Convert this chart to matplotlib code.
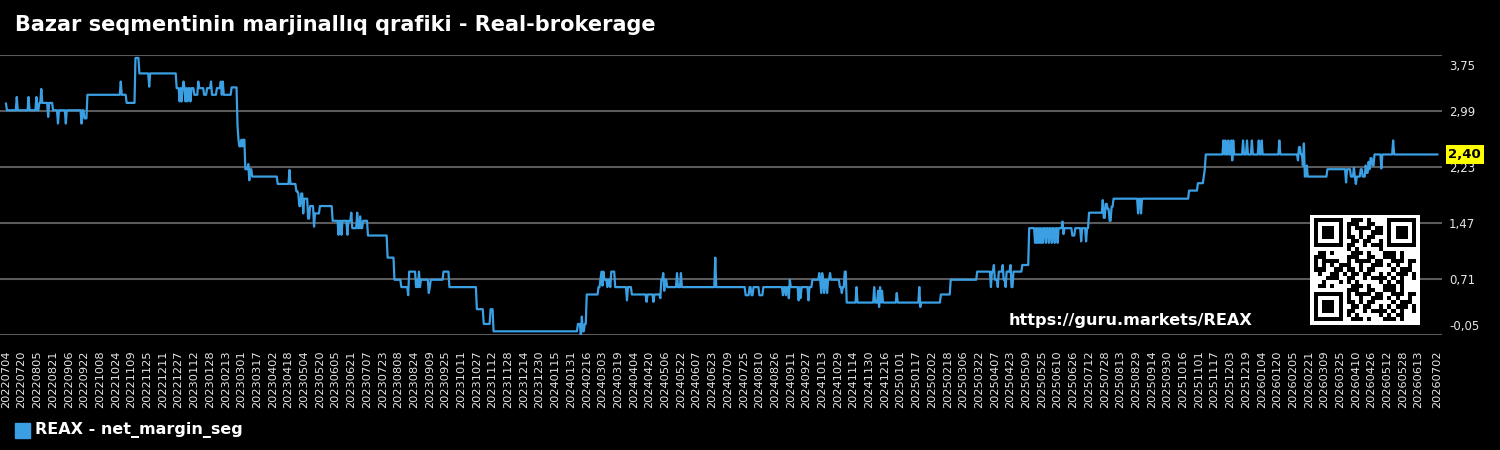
import numpy as np
import pandas as pd
import matplotlib
matplotlib.use("Agg")
import matplotlib.pyplot as plt
from matplotlib.patches import Rectangle
from matplotlib.transforms import ScaledTranslation

title = "Bazar seqmentinin marjinallıq qrafiki - Real-brokerage"
series_name = "REAX - net_margin_seg"
site = "https://guru.markets/REAX"

y_ticks = [-0.05, 0.71, 1.47, 2.23, 2.99, 3.75]

# change points (date, value), grouped by year
pts_2022 = [
    ("2022-07-04", 3.09), ("2022-07-05", 3.00),
    ("2022-07-15", 3.18), ("2022-07-16", 3.00),
    ("2022-07-27", 3.18), ("2022-07-28", 3.00),
    ("2022-08-04", 3.18), ("2022-08-05", 3.00),
    ("2022-08-07", 3.10),
    ("2022-08-09", 3.29), ("2022-08-10", 3.10),
    ("2022-08-16", 2.91), ("2022-08-17", 3.10),
    ("2022-08-21", 3.00),
    ("2022-08-26", 2.82), ("2022-08-27", 3.00),
    ("2022-09-03", 2.82), ("2022-09-04", 3.00),
    ("2022-09-19", 2.82), ("2022-09-20", 3.00),
    ("2022-09-22", 2.89),
    ("2022-09-25", 3.21),
    ("2022-10-29", 3.39), ("2022-10-30", 3.21),
    ("2022-11-04", 3.10),
    ("2022-11-13", 3.71),
    ("2022-11-17", 3.50),
    ("2022-11-27", 3.32), ("2022-11-28", 3.50),
    ("2022-12-25", 3.30),
    ("2022-12-28", 3.12), ("2022-12-29", 3.30),
    ("2022-12-30", 3.12), ("2022-12-31", 3.30),
]
pts_2023 = [
    ("2023-01-01", 3.39), ("2023-01-02", 3.30),
    ("2023-01-03", 3.12), ("2023-01-04", 3.30),
    ("2023-01-05", 3.12), ("2023-01-06", 3.30),
    ("2023-01-08", 3.12), ("2023-01-09", 3.30),
    ("2023-01-12", 3.21),
    ("2023-01-16", 3.39), ("2023-01-17", 3.30),
    ("2023-01-22", 3.21), ("2023-01-25", 3.30),
    ("2023-01-29", 3.39), ("2023-01-30", 3.21),
    ("2023-02-04", 3.30),
    ("2023-02-08", 3.39), ("2023-02-09", 3.21),
    ("2023-02-10", 3.39), ("2023-02-11", 3.21),
    ("2023-02-19", 3.31),
    ("2023-02-25", 2.80), ("2023-02-26", 2.60), ("2023-02-27", 2.51),
    ("2023-03-01", 2.60), ("2023-03-02", 2.51), ("2023-03-03", 2.60),
    ("2023-03-05", 2.20),
    ("2023-03-08", 2.27), ("2023-03-09", 2.05), ("2023-03-10", 2.20),
    ("2023-03-12", 2.10),
    ("2023-04-07", 2.00),
    ("2023-04-19", 2.19), ("2023-04-20", 2.00),
    ("2023-04-26", 1.90), ("2023-04-28", 1.87), ("2023-04-29", 1.70),
    ("2023-05-01", 1.87), ("2023-05-03", 1.60), ("2023-05-04", 1.80),
    ("2023-05-08", 1.53), ("2023-05-10", 1.70), ("2023-05-14", 1.42),
    ("2023-05-15", 1.60),
    ("2023-05-20", 1.70),
    ("2023-06-02", 1.50),
    ("2023-06-08", 1.31), ("2023-06-09", 1.50),
    ("2023-06-11", 1.31), ("2023-06-12", 1.50),
    ("2023-06-17", 1.31), ("2023-06-18", 1.50),
    ("2023-06-21", 1.61), ("2023-06-22", 1.40),
    ("2023-06-27", 1.61), ("2023-06-28", 1.40),
    ("2023-06-30", 1.56), ("2023-07-01", 1.40),
    ("2023-07-03", 1.50),
    ("2023-07-08", 1.30),
    ("2023-07-28", 1.00),
    ("2023-08-04", 0.70),
    ("2023-08-11", 0.60),
    ("2023-08-18", 0.49),
    ("2023-08-19", 0.81),
    ("2023-08-26", 0.60), ("2023-08-27", 0.70), ("2023-08-28", 0.60),
    ("2023-08-29", 0.81), ("2023-08-30", 0.60),
    ("2023-08-31", 0.70),
    ("2023-09-08", 0.52), ("2023-09-09", 0.60), ("2023-09-10", 0.70),
    ("2023-09-23", 0.81),
    ("2023-09-29", 0.60),
    ("2023-10-27", 0.30),
    ("2023-11-03", 0.10),
    ("2023-11-10", 0.30),
    ("2023-11-13", 0.00),
]
pts_2024 = [
    ("2024-02-07", 0.10),
    ("2024-02-10", -0.07), ("2024-02-11", 0.20), ("2024-02-12", 0.00),
    ("2024-02-14", 0.10),
    ("2024-02-16", 0.50),
    ("2024-02-28", 0.60), ("2024-03-01", 0.70), ("2024-03-02", 0.81),
    ("2024-03-03", 0.62), ("2024-03-04", 0.81), ("2024-03-05", 0.70),
    ("2024-03-08", 0.60), ("2024-03-09", 0.70), ("2024-03-11", 0.60),
    ("2024-03-12", 0.81),
    ("2024-03-16", 0.60),
    ("2024-03-28", 0.42), ("2024-03-29", 0.60),
    ("2024-04-02", 0.50),
    ("2024-04-17", 0.40), ("2024-04-18", 0.50),
    ("2024-04-24", 0.40), ("2024-04-25", 0.50),
    ("2024-05-01", 0.45), ("2024-05-02", 0.70), ("2024-05-04", 0.79),
    ("2024-05-05", 0.55), ("2024-05-06", 0.70), ("2024-05-08", 0.60),
    ("2024-05-18", 0.79), ("2024-05-19", 0.60),
    ("2024-05-22", 0.79), ("2024-05-23", 0.60),
    ("2024-06-26", 1.00), ("2024-06-27", 0.60),
    ("2024-07-27", 0.49), ("2024-07-31", 0.60),
    ("2024-08-02", 0.49), ("2024-08-04", 0.60),
    ("2024-08-10", 0.49), ("2024-08-14", 0.60),
    ("2024-09-03", 0.49), ("2024-09-04", 0.60),
    ("2024-09-06", 0.49), ("2024-09-07", 0.60),
    ("2024-09-09", 0.45), ("2024-09-10", 0.70), ("2024-09-11", 0.60),
    ("2024-09-19", 0.42), ("2024-09-20", 0.60),
    ("2024-09-21", 0.45), ("2024-09-22", 0.60),
    ("2024-09-29", 0.42), ("2024-09-30", 0.60),
    ("2024-10-03", 0.70),
    ("2024-10-10", 0.79), ("2024-10-11", 0.70),
    ("2024-10-12", 0.52), ("2024-10-13", 0.79), ("2024-10-14", 0.70),
    ("2024-10-15", 0.52), ("2024-10-16", 0.70),
    ("2024-10-18", 0.52), ("2024-10-19", 0.70),
    ("2024-10-21", 0.79), ("2024-10-22", 0.70),
    ("2024-10-31", 0.60), ("2024-11-02", 0.52), ("2024-11-03", 0.60),
    ("2024-11-05", 0.81),
    ("2024-11-07", 0.39),
    ("2024-11-17", 0.60), ("2024-11-18", 0.39),
    ("2024-12-05", 0.60), ("2024-12-06", 0.39),
    ("2024-12-09", 0.55), ("2024-12-10", 0.33), ("2024-12-11", 0.60),
    ("2024-12-12", 0.39), ("2024-12-13", 0.55), ("2024-12-14", 0.39),
    ("2024-12-28", 0.52), ("2024-12-29", 0.39),
]
pts_2025 = [
    ("2025-01-20", 0.60), ("2025-01-21", 0.33), ("2025-01-22", 0.39),
    ("2025-02-11", 0.50),
    ("2025-02-21", 0.70),
    ("2025-03-20", 0.81),
    ("2025-04-03", 0.60), ("2025-04-04", 0.81), ("2025-04-06", 0.90),
    ("2025-04-07", 0.70), ("2025-04-10", 0.60), ("2025-04-11", 0.81),
    ("2025-04-15", 0.90), ("2025-04-16", 0.70), ("2025-04-18", 0.60),
    ("2025-04-19", 0.81), ("2025-04-23", 0.90), ("2025-04-24", 0.60),
    ("2025-04-26", 0.81),
    ("2025-05-05", 0.90),
    ("2025-05-12", 1.40),
    ("2025-05-18", 1.20), ("2025-05-19", 1.40),
    ("2025-05-20", 1.20), ("2025-05-21", 1.40),
    ("2025-05-22", 1.20), ("2025-05-23", 1.40),
    ("2025-05-24", 1.20), ("2025-05-25", 1.40),
    ("2025-05-26", 1.20), ("2025-05-27", 1.40),
    ("2025-05-29", 1.20), ("2025-05-30", 1.40),
    ("2025-06-01", 1.20), ("2025-06-02", 1.40),
    ("2025-06-04", 1.20), ("2025-06-05", 1.40),
    ("2025-06-07", 1.20), ("2025-06-08", 1.40),
    ("2025-06-10", 1.20), ("2025-06-11", 1.40),
    ("2025-06-15", 1.49), ("2025-06-16", 1.32), ("2025-06-17", 1.40),
    ("2025-06-25", 1.30), ("2025-06-28", 1.40),
    ("2025-07-04", 1.22), ("2025-07-05", 1.40),
    ("2025-07-09", 1.22), ("2025-07-10", 1.40),
    ("2025-07-12", 1.61),
    ("2025-07-26", 1.78), ("2025-07-27", 1.54), ("2025-07-29", 1.73),
    ("2025-07-31", 1.66), ("2025-08-02", 1.50), ("2025-08-04", 1.69),
    ("2025-08-06", 1.80),
    ("2025-08-31", 1.60), ("2025-09-01", 1.80),
    ("2025-09-03", 1.60), ("2025-09-04", 1.80),
    ("2025-10-22", 1.91),
    ("2025-10-31", 2.01),
    ("2025-11-06", 2.11), ("2025-11-07", 2.20),
    ("2025-11-08", 2.40),
    ("2025-11-26", 2.59), ("2025-11-27", 2.40),
    ("2025-11-28", 2.59), ("2025-11-29", 2.40),
    ("2025-12-01", 2.59), ("2025-12-02", 2.40),
    ("2025-12-04", 2.59), ("2025-12-05", 2.32), ("2025-12-06", 2.59),
    ("2025-12-07", 2.40),
    ("2025-12-16", 2.59), ("2025-12-17", 2.40),
    ("2025-12-20", 2.59), ("2025-12-21", 2.40),
    ("2025-12-25", 2.59), ("2025-12-26", 2.40),
]
pts_2026 = [
    ("2026-01-01", 2.59), ("2026-01-02", 2.40),
    ("2026-01-04", 2.59), ("2026-01-05", 2.40),
    ("2026-01-22", 2.59), ("2026-01-23", 2.40),
    ("2026-02-10", 2.32), ("2026-02-11", 2.50), ("2026-02-13", 2.40),
    ("2026-02-15", 2.25), ("2026-02-16", 2.55), ("2026-02-17", 2.10),
    ("2026-02-19", 2.25), ("2026-02-20", 2.10),
    ("2026-03-12", 2.20),
    ("2026-03-31", 2.02), ("2026-04-01", 2.20),
    ("2026-04-05", 2.10),
    ("2026-04-08", 2.22), ("2026-04-09", 2.10),
    ("2026-04-10", 2.00), ("2026-04-11", 2.10),
    ("2026-04-15", 2.20), ("2026-04-17", 2.10),
    ("2026-04-20", 2.25), ("2026-04-21", 2.15),
    ("2026-04-23", 2.30), ("2026-04-24", 2.20),
    ("2026-04-25", 2.35), ("2026-04-27", 2.25),
    ("2026-04-29", 2.40),
    ("2026-05-06", 2.21), ("2026-05-07", 2.40),
    ("2026-05-18", 2.59), ("2026-05-19", 2.40),
    ("2026-07-02", 2.40),
]

line_color = "#3a9fe3"
text_color = "#e6e6e6"
grid_color = "#5a5a5a"

all_pts = pts_2022 + pts_2023 + pts_2024 + pts_2025 + pts_2026
df = pd.DataFrame(all_pts, columns=["date", "value"])
df["date"] = pd.to_datetime(df["date"])

# daily series drawn as a plain line: a value holds until the day before the next change
one_day = pd.Timedelta(days=1)
xs, ys = [df["date"].iloc[0]], [df["value"].iloc[0]]
for i in range(1, len(df)):
    d, v = df["date"].iloc[i], df["value"].iloc[i]
    if d - one_day > xs[-1]:
        xs.append(d - one_day)
        ys.append(ys[-1])
    xs.append(d)
    ys.append(v)

fig = plt.figure(figsize=(15, 4.5), dpi=100, facecolor="black")
ax = fig.add_axes([0.0, 115 / 450, 1442 / 1500, 280 / 450])
ax.set_facecolor("black")

ax.plot(xs, ys, color=line_color, lw=1.6)

start, end = df["date"].iloc[0], df["date"].iloc[-1]
ax.set_xlim(start - pd.Timedelta(days=6.1), end + pd.Timedelta(days=4.8))
ax.set_ylim(y_ticks[0], y_ticks[-1])

# x ticks: every 16 days plus the last date (drop one that would crowd it)
xt = [d for d in pd.date_range(start, end, freq="16D") if (end - d).days >= 8]
xt.append(end)
ax.set_xticks(xt)
ax.set_xticklabels([d.strftime("%Y%m%d") for d in xt])
ax.tick_params(axis="x", labelrotation=90, labelsize=8.2, colors=text_color,
               length=0, pad=11)

ax.yaxis.tick_right()
ax.set_yticks(y_ticks)
ax.set_yticklabels([f"{v:.2f}".replace(".", ",") for v in y_ticks])
ax.tick_params(axis="y", labelsize=8.5, colors=text_color, length=0, pad=5)
# keep the end labels inside the plot band
labels = ax.get_yticklabels()
labels[0].set_transform(labels[0].get_transform() + ScaledTranslation(0, 0.10, fig.dpi_scale_trans))
labels[-1].set_transform(labels[-1].get_transform() + ScaledTranslation(0, -0.10, fig.dpi_scale_trans))

ax.grid(axis="y", color=grid_color, lw=1.5)
ax.grid(axis="x", visible=False)
for s in ax.spines.values():
    s.set_visible(False)

# current value box
last_val = df["value"].iloc[-1]
ax.annotate(f"{last_val:.2f}".replace(".", ","), xy=(1, last_val),
            xycoords=("axes fraction", "data"), xytext=(4.5, 0),
            textcoords="offset points", ha="left", va="center",
            fontsize=9.5, fontweight="bold", color="black",
            bbox=dict(boxstyle="square,pad=0.2", fc="#ffff00", ec="none"))

fig.text(15 / 1500, 1 - 25 / 450, title, color="white", fontsize=15,
         fontweight="bold", ha="left", va="center")

# legend
fig.add_artist(Rectangle((15 / 1500, 12 / 450), 15 / 1500, 15 / 450,
                         transform=fig.transFigure, color=line_color))
fig.text(35 / 1500, 19.5 / 450, series_name, color="white", fontsize=11.5,
         fontweight="bold", ha="left", va="center")

fig.text(1009 / 1500, (450 - 320) / 450, site, color="white", fontsize=11.6,
         fontweight="bold", ha="left", va="center")

# QR-style badge built from the link text
n = 25
raw = np.frombuffer((site * 30).encode(), dtype=np.uint8)
bits = np.unpackbits(raw)[: n * n].reshape(n, n).astype(bool)
m = bits.copy()
for r, c in [(0, 0), (0, n - 7), (n - 7, 0)]:
    m[max(r - 1, 0):min(r + 8, n), max(c - 1, 0):min(c + 8, n)] = False
    m[r:r + 7, c:c + 7] = True
    m[r + 1:r + 6, c + 1:c + 6] = False
    m[r + 2:r + 5, c + 2:c + 5] = True
img = np.pad(np.where(m, 0, 1), 1, constant_values=1)
qax = fig.add_axes([1310 / 1500, (450 - 325) / 450, 110 / 1500, 110 / 450])
qax.imshow(img, cmap="gray", vmin=0, vmax=1, interpolation="nearest", aspect="auto")
qax.axis("off")

fig.savefig("out.png", dpi=100, facecolor="black")
